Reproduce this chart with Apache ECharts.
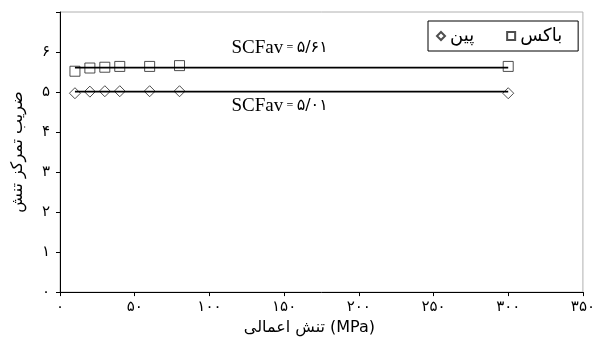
<!DOCTYPE html>
<html>
<head>
<meta charset="utf-8">
<script src="https://cdn.jsdelivr.net/npm/echarts@6/dist/echarts.min.js"></script>
<style>
  html, body { margin: 0; padding: 0; background: #fff; }
  #chart { width: 598px; height: 341px; }
</style>
</head>
<body>
<div id="chart"></div>
<script>
// Applied stress (MPa) at each test point
const stressValues = [10, 20, 30, 40, 60, 80, 300];
// Stress concentration factor per joint type
const boxValues = [5.52, 5.60, 5.62, 5.64, 5.64, 5.66, 5.64];
const pinValues = [4.97, 5.01, 5.02, 5.02, 5.02, 5.02, 4.97];
// Average SCF for each joint type (drawn as horizontal lines)
const boxAverage = 5.61;
const pinAverage = 5.01;
// Series names
const boxName = 'باکس';
const pinName = 'پین';
// Tick labels
const xTickLabels = ['۰', '۵۰', '۱۰۰', '۱۵۰', '۲۰۰', '۲۵۰', '۳۰۰', '۳۵۰'];
const yTickLabels = ['۰', '۱', '۲', '۳', '۴', '۵', '۶', ''];
// Left-to-right mark keeps "(MPa)" after the Persian words
const xTitle = '\u200Eتنش اعمالی (MPa)';
const yTitle = 'ضریب تمرکز تنش';
// Where the average labels sit along the x axis
const labelStress = 147;

const faDigits = '۰۱۲۳۴۵۶۷۸۹';
function toPersian(v) {
  return v.toFixed(2).replace(/[0-9]/g, d => faDigits[+d]).replace('.', '/');
}

function avgLabel(value, offsetY) {
  return {
    coord: [labelStress, value],
    symbol: 'rect',
    symbolSize: 0,
    label: {
      show: true,
      position: 'inside',
      offset: [0, offsetY],
      formatter: '{a|SCFav} {b|=} {c|' + toPersian(value) + '}',
      rich: {
        a: { fontFamily: 'Liberation Serif', fontSize: 19, color: '#000' },
        b: { fontFamily: 'Liberation Serif', fontSize: 12, color: '#000' },
        c: { fontFamily: 'DejaVu Sans', fontSize: 16, color: '#000' }
      }
    }
  };
}

const chart = echarts.init(document.getElementById('chart'), null, { renderer: 'canvas' });

const markerStyle = { color: 'rgba(255,255,255,0)', borderColor: '#222', borderWidth: 1 };

chart.setOption({
  animation: false,
  backgroundColor: '#fff',
  grid: {
    left: 60, right: 15, top: 12, bottom: 44,
    show: true, borderColor: '#b0b0b0', borderWidth: 1
  },
  legend: {
    left: 428, top: 21,
    padding: [6, 16, 6, 8],
    borderColor: '#000', borderWidth: 1,
    itemWidth: 8, itemHeight: 8, itemGap: 32,
    data: [pinName, boxName],
    textStyle: { fontFamily: 'DejaVu Sans', fontSize: 18, color: '#000' }
  },
  xAxis: {
    type: 'value', min: 0, max: 350, interval: 50,
    name: xTitle, nameLocation: 'middle', nameGap: 23,
    nameTextStyle: { fontFamily: 'DejaVu Sans', fontSize: 16, color: '#000', padding: [0, 24, 0, 0] },
    axisLine: { show: true, lineStyle: { color: '#000', width: 1 } },
    axisTick: { show: true, length: 4, lineStyle: { color: '#000' } },
    axisLabel: {
      margin: 8, fontFamily: 'DejaVu Sans', fontSize: 15, color: '#000',
      formatter: v => xTickLabels[Math.round(v / 50)]
    },
    splitLine: { show: false }
  },
  yAxis: {
    type: 'value', min: 0, max: 7, interval: 1,
    name: yTitle, nameLocation: 'middle', nameGap: 34, nameRotate: 90,
    nameTextStyle: { fontFamily: 'DejaVu Sans', fontSize: 16, color: '#000' },
    axisLine: { show: true, lineStyle: { color: '#000', width: 1 } },
    axisTick: { show: true, length: 4, lineStyle: { color: '#000' } },
    axisLabel: {
      margin: 10, fontFamily: 'DejaVu Sans', fontSize: 15, color: '#000',
      formatter: v => yTickLabels[Math.round(v)]
    },
    splitLine: { show: false }
  },
  series: [
    {
      name: boxName, type: 'scatter', symbol: 'rect', symbolSize: 10,
      itemStyle: markerStyle, z: 2,
      data: stressValues.map((x, i) => [x, boxValues[i]])
    },
    {
      name: pinName, type: 'scatter', symbol: 'diamond', symbolSize: 11,
      itemStyle: markerStyle, z: 2,
      data: stressValues.map((x, i) => [x, pinValues[i]])
    },
    {
      name: 'boxAverage', type: 'line', symbol: 'none', silent: true, z: 3,
      lineStyle: { color: '#000', width: 1.6 },
      data: [[stressValues[0], boxAverage], [stressValues[stressValues.length - 1], boxAverage]],
      markPoint: { silent: true, data: [avgLabel(boxAverage, -20)] }
    },
    {
      name: 'pinAverage', type: 'line', symbol: 'none', silent: true, z: 3,
      lineStyle: { color: '#000', width: 1.6 },
      data: [[stressValues[0], pinAverage], [stressValues[stressValues.length - 1], pinAverage]],
      markPoint: { silent: true, data: [avgLabel(pinAverage, 14)] }
    }
  ]
});
</script>
</body>
</html>
